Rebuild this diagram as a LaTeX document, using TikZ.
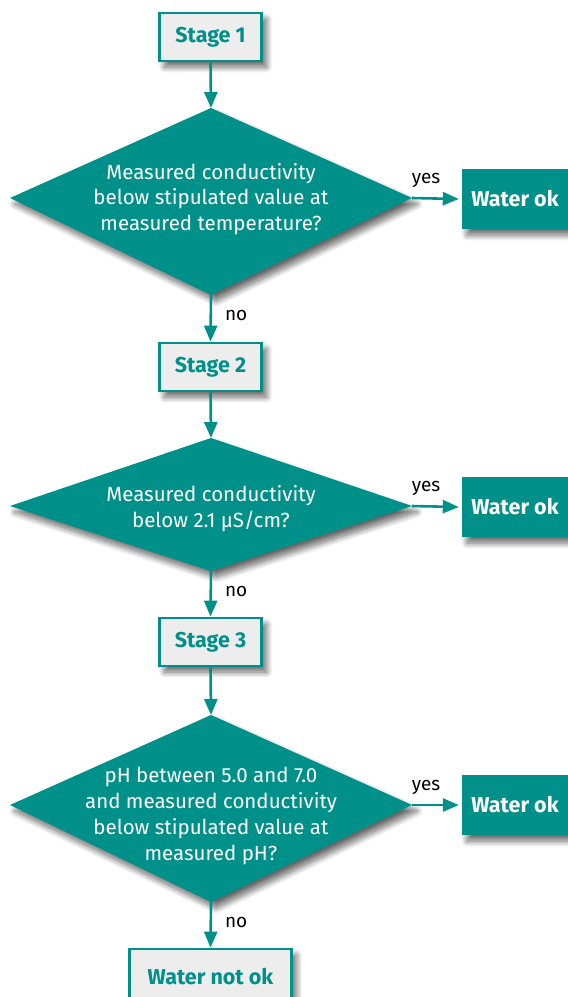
\documentclass[tikz,border=0pt]{standalone}
\usepackage{fontspec}
\setmainfont{Fira Sans}
\usetikzlibrary{arrows.meta,shadows.blur}
\definecolor{teal1}{HTML}{00908A}
\definecolor{boxgray}{HTML}{EDEDED}
\begin{document}
\begin{tikzpicture}[x=1pt,y=-1pt,
  shade1/.style={blur shadow={shadow xshift=5pt,shadow yshift=-6pt,shadow blur radius=6pt,shadow blur steps=12,shadow opacity=60}},
  stagebox/.style={draw=teal1,line width=2.8pt,fill=boxgray,minimum width=102pt,minimum height=48pt,inner sep=0pt,text=teal1,font=\fontsize{21.5}{24}\selectfont\bfseries,shade1},
  okbox/.style={fill=teal1,minimum width=106pt,minimum height=60pt,inner sep=0pt,text=white,font=\fontsize{21.5}{24}\selectfont\bfseries,shade1},
  dtext/.style={inner sep=0pt,text=white,align=center,font=\fontsize{20.5}{25.8}\selectfont},
  dshape/.style={fill=teal1,shade1},
  flow/.style={draw=teal1,line width=2.6pt,-{Triangle[width=13pt,length=16pt]}},
  lbl/.style={font=\fontsize{19}{22}\selectfont,text=black,inner sep=0pt}]
\useasboundingbox (0,0) rectangle (568,997);
% diamond corner coordinates
\coordinate (d1t) at (211,108); \coordinate (d1b) at (211,295);
\coordinate (d1l) at (10,198);  \coordinate (d1r) at (412,198);
\coordinate (d2t) at (211,438); \coordinate (d2b) at (211,571);
\coordinate (d2l) at (10,506);  \coordinate (d2r) at (412,506);
\coordinate (d3t) at (211,715); \coordinate (d3b) at (211,902);
\coordinate (d3l) at (10,805);  \coordinate (d3r) at (412,805);
\path[dshape] (d1t) -- (d1r) -- (d1b) -- (d1l) -- cycle;
\path[dshape] (d2t) -- (d2r) -- (d2b) -- (d2l) -- cycle;
\path[dshape] (d3t) -- (d3r) -- (d3b) -- (d3l) -- cycle;
\node[dtext] (d1) at (211,199) {Measured conductivity\\below stipulated value at\\measured temperature?};
\node[dtext] (d2) at (211,509) {Measured conductivity\\below 2.1 µS/cm?};
\node[dtext] (d3) at (211,816) {pH between 5.0 and 7.0\\and measured conductivity\\below stipulated value at\\measured pH?};
\node[stagebox] (s1) at (210.5,37) {Stage 1};
\node[okbox] (ok1) at (515,199) {Water ok};
\node[stagebox] (s2) at (210.5,367) {Stage 2};
\node[okbox] (ok2) at (515,507) {Water ok};
\node[stagebox] (s3) at (210.5,642) {Stage 3};
\node[okbox] (ok3) at (515,805) {Water ok};
\node[stagebox,minimum width=162pt,minimum height=56pt] (nok) at (210.5,977) {Water not ok};
\draw[flow] (s1.south) -- (d1t);
\draw[flow] (d1r) -- ([xshift=-3pt]ok1.west) node[lbl,pos=0.3,above=9pt] (y1) {yes};
\draw[flow] (d1b) -- (s2.north) node[lbl,pos=0.45,right=13pt] (n1) {no};
\draw[flow] (s2.south) -- (d2t);
\draw[flow] (d2r) -- ([xshift=-3pt]ok2.west) node[lbl,pos=0.3,above=9pt] (y2) {yes};
\draw[flow] (d2b) -- (s3.north) node[lbl,pos=0.45,right=13pt] (n2) {no};
\draw[flow] (s3.south) -- (d3t);
\draw[flow] (d3r) -- ([xshift=-3pt]ok3.west) node[lbl,pos=0.3,above=9pt] (y3) {yes};
\draw[flow] (d3b) -- (nok.north) node[lbl,pos=0.45,right=13pt] (n3) {no};
\end{tikzpicture}
\end{document}
